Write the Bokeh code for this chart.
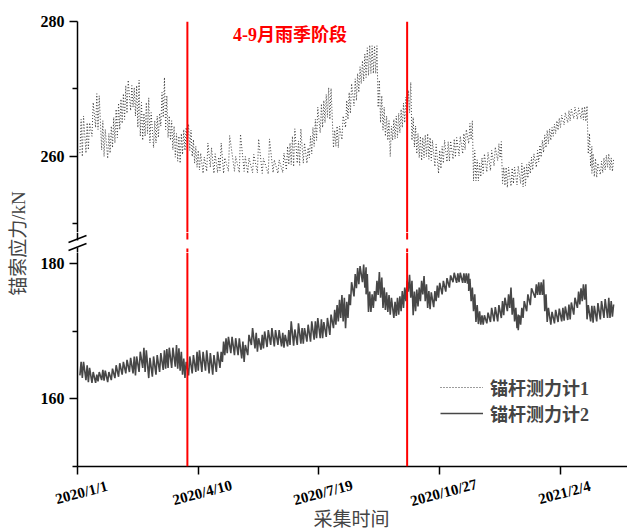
import math
import pandas as pd
from bokeh.plotting import figure
from bokeh.layouts import row, column
from bokeh.models import Range1d, FixedTicker, Span, Label
from bokeh.embed import file_html
from bokeh.resources import INLINE

START = pd.Timestamp("2020-01-01")

# 锚杆测力计1: day offset from 2020-01-01, low / high reading of the band (kN)
s1_day = [2, 4, 7, 9, 12, 15, 17, 20, 22, 25, 27, 29, 31, 33, 35, 37, 39, 41, 44, 46, 48, 50, 52, 54, 56, 58, 60,
          63, 65, 67, 69, 71, 73, 75, 77, 79, 81, 83, 85, 87, 89, 91, 93, 95, 97, 99, 101, 104, 107, 110, 113, 116,
          118, 121, 125, 130, 134, 138, 141, 145, 149, 153, 158, 162, 166, 170, 173, 175, 177, 179, 182, 184, 187,
          190, 192, 194, 196, 198, 201, 203, 205, 207, 209, 212, 214, 216, 219, 222, 224, 226, 229, 231, 233, 235,
          237, 239, 241, 243, 245, 247, 249, 251, 253, 255, 257, 259, 261, 263, 265, 267, 269, 271, 273, 275, 277,
          279, 281, 283, 285, 287, 289, 291, 293, 296, 299, 301, 303, 306, 308, 311, 313, 316, 319, 321, 324, 326,
          328, 330, 332, 334, 336, 339, 342, 345, 348, 350, 352, 354, 356, 359, 361, 364, 367, 369, 371, 373, 375,
          377, 380, 382, 384, 386, 388, 390, 392, 394, 396, 398, 400, 403, 406, 408, 411, 414, 417, 419, 421, 423,
          425, 426, 428, 430, 433, 435, 437, 439, 441, 443]
s1_lo = [260.5, 260, 260.5, 261, 263, 264.3, 264, 261, 260, 259.7, 260.5, 261.3, 262, 262.8, 264, 264.9, 265.5,
         266.4, 266.8, 267.3, 266, 264.3, 263, 262.4, 263, 263.4, 262, 261.3, 262, 262.8, 264.5, 265.8, 264, 262.8,
         262.4, 261, 259.9, 259.3, 259, 260.3, 260.9, 261, 260.9, 260, 259, 258.4, 258, 257.5, 257.8, 258.4, 257.5,
         257.6, 257.9, 257.5, 257.8, 257.8, 257.6, 257.8, 257.5, 257.6, 257.6, 257.5, 257.4, 257.6, 257.5, 257.6,
         258, 258.8, 258.8, 258.5, 259, 258.7, 259, 259, 259.8, 260.4, 261.5, 262.4, 263.5, 264.3, 265, 265.8,
         265.5, 261.3, 261.5, 261.3, 262.5, 264.3, 265.5, 266.4, 267.5, 268.3, 269.5, 270.8, 271.2, 271.7, 272,
         272.3, 272.3, 272.3, 267.3, 265, 263.9, 263, 262.4, 260, 262.4, 262.6, 262.8, 263.5, 264.3, 265, 265.8,
         266.5, 262.4, 261.4, 260.4, 259.8, 259.4, 259.8, 260, 259.6, 259.4, 258.5, 257.5, 258.2, 259, 259.2,
         259.3, 259.6, 259.9, 260.1, 260.4, 261, 261.9, 262.5, 256.4, 256.4, 256.4, 257, 257.5, 257.7, 257.9,
         258.6, 259.4, 259.8, 256, 255.7, 255.4, 255.6, 256, 255.8, 256, 255.5, 255.7, 256.8, 257.5, 258, 258.4,
         259.2, 259.9, 260.6, 261.3, 261.9, 262.4, 263, 263.4, 263.9, 264.3, 264.7, 265, 265.3, 265.6, 265.5,
         265.6, 265.4, 265.2, 260.4, 258.5, 257.5, 257, 256.9, 257.3, 257.6, 258, 258.4, 258, 257.8]
s1_hi = [265.5, 266, 265, 265, 268, 269.3, 269, 265.3, 264, 263.4, 264.5, 265.8, 267, 267.9, 268.5, 269.3, 270.5,
         271.3, 270.5, 270.2, 270.5, 271.3, 268, 266.4, 268, 268.7, 266.5, 265.3, 266, 266.4, 269.5, 271.7, 269,
         266, 265.3, 264.5, 263.4, 263, 263.4, 264, 264.3, 264.8, 263.9, 262.5, 261.5, 260.9, 260.5, 259.9, 262,
         261.3, 260.4, 259.9, 262, 259.8, 263.1, 260, 263.3, 260, 259.8, 260.3, 262.6, 259.7, 262.6, 259.5, 259.5,
         260.5, 261.5, 262, 263, 264.1, 262.3, 264.1, 262, 261.3, 263, 264.3, 265.5, 267.3, 267.8, 268.3, 269.2,
         270.2, 270.1, 263.9, 264.5, 264.5, 266, 268.3, 269.5, 270.8, 271.5, 272.3, 273.3, 274.2, 275.2, 276.1,
         276.5, 276.4, 276.4, 276.4, 271.3, 269, 267.3, 266, 265.3, 264.5, 265.5, 266, 266.4, 267, 267.9, 268.8,
         269.8, 271, 265.8, 264.5, 263.4, 263, 262.8, 263.2, 263.4, 262.8, 262.4, 261.8, 260.9, 261.5, 262.4,
         262.2, 262.3, 262.6, 262.8, 263, 263.4, 264, 264.9, 265.3, 260.9, 259.5, 259, 259.8, 260.4, 260.6, 260.9,
         261.4, 261.9, 262.2, 258.4, 258.4, 258.4, 258.3, 258.4, 258.6, 259, 258.5, 258.8, 259.2, 259.9, 260.4,
         260.9, 261.7, 262.4, 263.2, 263.9, 264.1, 264.3, 264.8, 265.3, 265.7, 266.1, 266.5, 266.8, 267, 267.3,
         267.2, 267.3, 267.4, 267.5, 263.4, 261.5, 260.4, 259.7, 259, 259.3, 259.8, 260.2, 260.4, 259.8, 259.6]

# 锚杆测力计2: day offset from 2020-01-01, low / high reading of the band (kN)
s2_day = [2, 4, 7, 9, 12, 15, 17, 20, 22, 25, 28, 31, 34, 37, 40, 43, 46, 48, 51, 54, 56, 59, 62, 65, 68, 71, 73,
          75, 78, 81, 83, 85, 87, 89, 92, 95, 98, 100, 103, 106, 109, 112, 115, 118, 120, 122, 124, 127, 130, 133,
          136, 138, 141, 144, 147, 149, 152, 154, 157, 160, 163, 166, 169, 171, 174, 176, 179, 182, 185, 187, 190,
          193, 196, 198, 201, 203, 206, 209, 212, 214, 216, 218, 220, 222, 224, 226, 229, 231, 233, 236, 238, 239,
          241, 243, 245, 247, 249, 251, 253, 255, 257, 259, 262, 264, 266, 268, 270, 272, 274, 276, 278, 280, 282,
          284, 286, 288, 290, 292, 295, 297, 299, 302, 305, 308, 311, 314, 316, 319, 321, 323, 324, 326, 328, 330,
          332, 334, 336, 339, 342, 345, 348, 351, 353, 356, 358, 360, 362, 364, 365, 367, 369, 372, 375, 379, 381,
          383, 385, 387, 389, 392, 395, 398, 401, 403, 406, 408, 411, 414, 416, 418, 420, 422, 425, 427, 430, 433,
          436, 439, 441, 443]
s2_lo = [163.5, 163.1, 162.8, 162.5, 162.4, 162.4, 162.6, 162.8, 162.7, 162.5, 162.8, 163.1, 163.3, 163.6, 163.8,
         164, 163.8, 163.5, 164, 164.6, 164, 163.1, 163.3, 163.6, 164, 164.3, 164.5, 164.6, 164.6, 164.8, 164.5,
         164.2, 163.6, 163.1, 163.5, 163.8, 164, 164.2, 164, 164.2, 163.8, 163.6, 164, 164.6, 165.5, 166.5, 166.8,
         166.8, 166.5, 166.5, 166, 165.5, 166.5, 168, 167.5, 167, 167.3, 167.5, 167.7, 168, 167.8, 168, 167.8,
         167.6, 167.8, 168, 167.9, 168, 168.2, 168.2, 168.5, 168.5, 168.8, 169, 169, 169, 169.2, 169.5, 170.5, 171,
         171.5, 172, 171.5, 170.5, 172, 173.9, 175.2, 176.4, 177, 177.3, 176.5, 175.5, 172.9, 172.9, 173.5, 174.5,
         175.4, 175, 173.5, 173.2, 172.9, 172.5, 172, 172.3, 172.5, 173, 173.5, 174.5, 175.9, 175, 172.4, 173,
         173.7, 174.5, 175.5, 174.5, 173.5, 173.3, 173.6, 174.5, 175, 175.5, 175.9, 176.5, 177.3, 177.2, 177.3,
         177.2, 177.2, 177.1, 176, 174.5, 173, 171.4, 171.1, 171, 171, 171.2, 171.4, 171.5, 171.5, 172, 172.4, 173,
         173.5, 172.5, 171.5, 170.5, 170.2, 171, 172, 173, 173.9, 175, 175.4, 175.4, 175.4, 173, 171.4, 171, 171.2,
         171.4, 171.5, 171.6, 171.7, 171.8, 172.5, 173.5, 174, 174.5, 174.7, 171.8, 171.5, 171.3, 171.5, 171.8,
         172, 172, 172, 172.2]
s2_hi = [165.5, 165.5, 165, 164.6, 164, 163.6, 164, 164.3, 164.2, 164, 164.5, 165, 165.3, 165.5, 165.8, 166.1,
         166.3, 166.3, 167, 167.6, 167.2, 166.1, 166.3, 166.5, 166.8, 167.2, 167.4, 167.6, 167.6, 168, 167.5, 167,
         166, 165.5, 166.3, 166.5, 167, 167.2, 167, 167.2, 166.8, 166.5, 167, 167, 168.5, 169, 169.2, 169.2, 169,
         169, 168.5, 168, 169.5, 170.5, 169.8, 169, 169.5, 170, 170.2, 170.5, 170.2, 170.2, 169.8, 169.5, 170.2,
         171.5, 170.3, 171.2, 170.5, 170.5, 171, 171.5, 171.5, 172, 171.8, 171.4, 172, 172.5, 173.2, 173.9, 174.7,
         175.4, 175, 174.4, 175.5, 177.3, 178.5, 179.4, 179.7, 179.9, 179.5, 178.5, 175.9, 175.5, 176, 177.5,
         178.8, 178, 176.5, 175.8, 175.4, 175, 174.4, 175, 175.2, 176, 176.5, 177.5, 178.4, 177.5, 175.9, 176.2,
         176.5, 177.5, 178.2, 177, 176, 175.8, 176, 176.8, 177.2, 177.5, 177.9, 178.3, 178.7, 178.6, 178.7, 178.6,
         178.6, 178.6, 177.8, 176.5, 175.5, 173.9, 173, 172.4, 172.4, 172.8, 173.5, 173.6, 173.9, 174.5, 175, 175.5,
         176.5, 175, 173.5, 172.5, 172.4, 173.5, 174.5, 175.5, 176.4, 177, 177.3, 177.3, 177.7, 175.5, 173.5, 172.9,
         173.2, 173.4, 173.5, 173.7, 174, 174.3, 175, 175.9, 176.4, 177, 177, 173.9, 173.8, 173.8, 174.2, 174.5,
         174.8, 175, 174.5, 174]

rain_season = ["2020-04-01", "2020-09-30"]
tick_dates = ["2020-01-01", "2020-04-10", "2020-07-19", "2020-10-27", "2021-02-04"]
tick_labels = ["2020/1/1", "2020/4/10", "2020/7/19", "2020/10/27", "2021/2/4"]
series_names = ["锚杆测力计1", "锚杆测力计2"]


def ms(ts):
    return int(pd.Timestamp(ts).value // 10**6)


DAY = 86400000.0
T0 = ms(START)


def zigzag(days, lo, hi):
    xs, ys = [], []
    for d, a, b in zip(days, lo, hi):
        xs += [T0 + d * DAY, T0 + (d + 1) * DAY]
        ys += [a, b]
    return xs, ys


FONT = "'Liberation Serif', 'Times New Roman', 'Noto Sans CJK SC', serif"

LBL_W = 34          # strip holding the y-axis title
AX_W = 43           # room for the y-axis ticks and labels
FIG_W = 627 - LBL_W
FRAME_W = FIG_W - AX_W
TOP_H, GAP_H, BOT_H, TICK_H = 232, 20, 223, 54
TOTAL_H = TOP_H + GAP_H + BOT_H + TICK_H

SPAN = 455.5 * DAY
x_range = Range1d(T0, T0 + SPAN)
# same scale, extended to the left edge of the strips below/between the panels
wide_range = Range1d(T0 - SPAN * AX_W / FRAME_W, T0 + SPAN)

common = dict(toolbar_location=None, output_backend="svg", outline_line_color=None)

top = figure(width=FIG_W, height=TOP_H, x_range=x_range, y_range=Range1d(248.74, 280),
             x_axis_type="datetime", x_axis_location=None, min_border_left=AX_W,
             min_border_right=0, min_border_top=21, min_border_bottom=0, **common)
bot = figure(width=FIG_W, height=BOT_H, x_range=x_range, y_range=Range1d(150, 181.70),
             x_axis_type="datetime", min_border_left=AX_W, min_border_right=0,
             min_border_top=0, min_border_bottom=9, **common)

for p in (top, bot):
    p.xgrid.grid_line_color = None
    p.ygrid.grid_line_color = None

x1, y1 = zigzag(s1_day, s1_lo, s1_hi)
x2, y2 = zigzag(s2_day, s2_lo, s2_hi)
top.line(x1, y1, line_color="#3a3a3a", line_width=1, line_dash="1 2")
# same series in the lower panel: entirely above its range (only its legend entry shows)
bot.line(x1, y1, line_color="#3a3a3a", line_width=1, line_dash="1 2",
         legend_label=series_names[0])
bot.line(x2, y2, line_color="#474747", line_width=1.6, legend_label=series_names[1])

for d in rain_season:
    top.add_layout(Span(location=ms(d), dimension="height", line_color="#ff0000", line_width=2))
    bot.add_layout(Span(location=ms(d), dimension="height", line_color="#ff0000", line_width=2))

top.add_layout(Label(x=ms("2020-06-25"), y=278.0, text="4-9月雨季阶段", text_color="#ff0000",
                     text_font=FONT, text_font_size="18px", text_font_style="bold",
                     text_align="center", text_baseline="middle"))

for ax in [top.yaxis[0], bot.yaxis[0], bot.xaxis[0]]:
    ax.axis_line_width = 1.5
    ax.axis_line_color = "black"
    ax.major_tick_line_width = 1.5
    ax.minor_tick_line_width = 1.5
    ax.major_tick_out = 8
    ax.major_tick_in = 0
    ax.minor_tick_out = 5
    ax.minor_tick_in = 0
    ax.major_label_text_font = FONT
    ax.major_label_text_font_size = "16px"
    ax.major_label_text_font_style = "bold"
    ax.major_label_text_color = "black"
    ax.major_label_standoff = 5

top.yaxis.ticker = FixedTicker(ticks=[260, 280], minor_ticks=[250, 270])
bot.yaxis.ticker = FixedTicker(ticks=[160, 180], minor_ticks=[150, 170])
tick_ms = [ms(d) for d in tick_dates]
bot.xaxis.ticker = FixedTicker(ticks=tick_ms, minor_ticks=[])
bot.xaxis.major_label_overrides = {t: "" for t in tick_ms}
bot.xaxis.major_label_text_font_size = "0px"
bot.xaxis.major_label_standoff = 0

lg = bot.legend[0]
lg.location = (363, 40)
lg.border_line_color = None
lg.background_fill_alpha = 0
lg.padding = 0
lg.margin = 0
lg.spacing = 0
lg.glyph_width = 43
lg.glyph_height = 20
lg.label_height = 20
lg.label_standoff = 7
lg.label_text_font = FONT
lg.label_text_font_size = "18px"
lg.label_text_font_style = "bold"

# strip between the panels: axis break marks and the broken axis / red lines ends
gap = figure(width=FIG_W, height=GAP_H, x_range=wide_range, y_range=Range1d(0, GAP_H),
             x_axis_location=None, y_axis_location=None, min_border=0, frame_align=False,
             **common)
gap.xgrid.grid_line_color = None
gap.ygrid.grid_line_color = None
px = SPAN / FRAME_W   # ms per pixel
gap.segment(x0=[T0, T0], y0=[12, 0], x1=[T0, T0], y1=[GAP_H, 5], line_color="black", line_width=1.5)
gap.segment(x0=[T0 - 9 * px, T0 - 9 * px], y0=[10, 2], x1=[T0 + 9 * px, T0 + 9 * px], y1=[17, 9],
            line_color="black", line_width=1.5)
for d in rain_season:
    gap.segment(x0=[ms(d), ms(d)], y0=[13, 0], x1=[ms(d), ms(d)], y1=[GAP_H, 4],
                line_color="#ff0000", line_width=2)

# strip under the lower panel: rotated date labels and the x-axis title
tk = figure(width=FIG_W, height=TICK_H, x_range=wide_range, y_range=Range1d(0, TICK_H),
            x_axis_location=None, y_axis_location=None, min_border=0, frame_align=False,
            **common)
tk.xgrid.grid_line_color = None
tk.ygrid.grid_line_color = None
for t, l in zip(tick_ms, tick_labels):
    tk.add_layout(Label(x=t, y=37, x_offset=4, text=l, text_font=FONT, text_font_size="15px",
                        text_font_style="bold", text_color="black", text_align="center",
                        text_baseline="middle", angle=math.radians(15)))
tk.add_layout(Label(x=ms("2020-08-15"), y=10, text="采集时间", text_font=FONT,
                    text_font_size="19px", text_align="center", text_baseline="middle"))

lab = figure(width=LBL_W, height=TOTAL_H, x_range=Range1d(0, LBL_W), y_range=Range1d(0, TOTAL_H),
             x_axis_location=None, y_axis_location=None, min_border=0, frame_align=False,
             **common)
lab.xgrid.grid_line_color = None
lab.ygrid.grid_line_color = None
lab.add_layout(Label(x=18, y=TOTAL_H - 243, text="锚索应力/kN", text_font=FONT,
                     text_font_size="19px", text_align="center", text_baseline="middle",
                     angle=math.pi / 2))

layout = row(lab, column(top, gap, bot, tk))
open("out.html", "w").write(file_html(layout, INLINE))
